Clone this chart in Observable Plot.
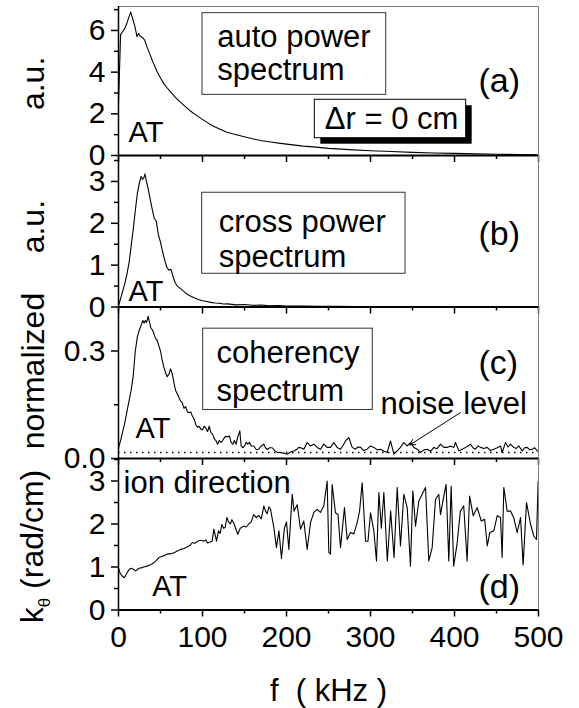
<!DOCTYPE html>
<html><head><meta charset="utf-8">
<script src="https://cdn.jsdelivr.net/npm/d3@7"></script>
<script src="https://cdn.jsdelivr.net/npm/@observablehq/plot@0.6"></script>
<style>
body{margin:0;background:#fff;}
#chart{position:relative;width:579px;height:708px;overflow:hidden;background:#fff;}
#chart svg{position:absolute;left:0;}
</style></head><body><div id="chart"></div>
<script>
const FONT = "'Liberation Sans', Arial, Helvetica, sans-serif";

// (a) auto power spectrum [f kHz, a.u.]
const autoPower = [[0,2.5],[2.5,5.8],[5,5.95],[7.5,6.1],[10,6.35],[12.5,6.65],[14.5,6.88],[17,6.55],[19.5,6.2],[22,5.7],[24,5.85],[26,5.72],[28,5.68],[31,5.55],[34,5.2],[37,4.9],[40,4.58],[43,4.3],[46,4.02],[50,3.72],[54,3.45],[58,3.24],[62,3.05],[68,2.78],[74,2.55],[80,2.33],[86,2.12],[92,1.95],[98,1.78],[105,1.6],[113,1.4],[121,1.26],[129,1.12],[137,1.03],[145,0.95],[157,0.83],[169,0.72],[181,0.65],[193,0.58],[205,0.52],[220,0.45],[235,0.4],[250,0.34],[275,0.28],[300,0.23],[325,0.19],[350,0.15],[375,0.12],[400,0.1],[425,0.08],[450,0.06],[475,0.05],[500,0.03]];

// (b) cross power spectrum
const crossPower = [[0,0.02],[2.5,0.2],[5,0.38],[7.5,0.56],[10,0.78],[12.5,1.05],[15,1.45],[17.5,1.85],[20,2.3],[22.5,2.72],[25,2.98],[27,3.12],[28.5,3.05],[30,3.08],[31.5,3.18],[33,3.02],[35,2.85],[37.5,2.6],[40,2.35],[42.5,2.12],[45,2.05],[47.5,1.72],[50,1.55],[52.5,1.32],[55,1.12],[57.5,0.95],[60,0.88],[62.5,0.9],[65,0.72],[67.5,0.58],[70,0.5],[75,0.42],[80,0.33],[85,0.27],[90,0.22],[95,0.18],[100,0.15],[105,0.13],[110,0.11],[115,0.095],[120,0.09],[125,0.07],[130,0.075],[140,0.05],[150,0.06],[160,0.04],[170,0.045],[180,0.03],[190,0.035],[200,0.02],[220,0.02],[240,0.015],[260,0.015],[280,0.01],[300,0.01],[350,0.01],[400,0.005],[450,0.005],[500,0.005]];

// (c) coherency spectrum
const coherency = [[0,0.03],[2.5,0.05],[5,0.075],[7.5,0.1],[10,0.13],[12.5,0.16],[15,0.19],[17.5,0.23],[20,0.3],[22.5,0.34],[25,0.36],[27.5,0.375],[29,0.385],[30.5,0.378],[32,0.385],[33.5,0.38],[35.3,0.397],[37,0.38],[38.5,0.365],[40,0.36],[42,0.35],[44,0.335],[46,0.33],[48,0.315],[50,0.3],[52,0.275],[54,0.255],[56,0.24],[58,0.228],[60,0.235],[62,0.25],[63.5,0.24],[65,0.225],[66.5,0.205],[68,0.19],[70,0.18],[72,0.17],[74,0.16],[76,0.155],[78,0.14],[80,0.145],[82,0.13],[84,0.128],[86,0.13],[88,0.118],[90,0.11],[92,0.095],[94,0.087],[96,0.09],[98,0.082],[100,0.08],[102,0.09],[104,0.085],[106,0.075],[108,0.09],[110,0.072],[112,0.068],[114,0.055],[116,0.05],[118,0.04],[120,0.05],[122,0.045],[124,0.05],[126,0.058],[128,0.062],[130,0.06],[132,0.063],[134,0.045],[136,0.04],[138,0.05],[140,0.04],[142,0.06],[144.4,0.077],[146,0.035],[148,0.03],[150,0.035],[152,0.045],[154,0.04],[156,0.045],[158,0.035],[161,0.035],[164,0.025],[167,0.026],[170,0.035],[173,0.04],[175,0.03],[177,0.025],[180,0.03],[183,0.03],[186,0.022],[189,0.017],[192.9,0.0167],[197,0.015],[200.8,0.012],[205,0.018],[208.7,0.021],[212,0.025],[214.7,0.031],[217,0.03],[220.6,0.026],[224.6,0.0445],[228.6,0.035],[232.5,0.04],[236.5,0.031],[240.5,0.026],[244.4,0.04],[248.4,0.031],[252.4,0.031],[256.3,0.0445],[260.3,0.031],[264.3,0.026],[267,0.035],[270.2,0.049],[274.2,0.0585],[278.2,0.031],[282.1,0.026],[285,0.032],[288.1,0.031],[292,0.022],[296,0.026],[300,0.035],[304,0.031],[308,0.024],[311.9,0.026],[316,0.02],[319.8,0.0167],[323.8,0.049],[327.8,0.012],[331.7,0.0213],[335.7,0.031],[339.7,0.0445],[343.7,0.035],[347.6,0.0445],[351.6,0.031],[355.6,0.026],[359.5,0.0167],[363.5,0.024],[367.5,0.026],[371.4,0.02],[375.4,0.031],[379,0.027],[383.3,0.04],[387.3,0.031],[391.3,0.031],[395.2,0.035],[399.2,0.031],[401.2,0.0445],[405.2,0.0213],[409.1,0.026],[413.1,0.031],[416,0.035],[419,0.04],[422,0.03],[425,0.026],[428,0.035],[431,0.031],[435,0.028],[438.9,0.031],[442.8,0.022],[446.8,0.026],[450.8,0.03],[454.8,0.035],[456.7,0.0167],[460.7,0.0445],[463.7,0.032],[466.7,0.04],[470.6,0.031],[473.6,0.028],[476.6,0.035],[480.6,0.0213],[483.5,0.03],[486.5,0.031],[489.5,0.024],[492.5,0.026],[495.5,0.03],[498.4,0.0213],[500,0.02]];
const noiseLevel = [0.0167];

// (d) k_theta (rad/cm)
const kTheta = [[0,0.98],[2,0.85],[4.4,0.79],[7,0.75],[10.3,0.87],[13,0.95],[15,0.97],[17.5,0.95],[20,0.91],[22,0.93],[24,0.97],[27,0.98],[30,1.0],[34,1.02],[38,1.05],[42,1.1],[45,1.15],[48,1.22],[52,1.25],[55,1.27],[58,1.3],[62,1.31],[66,1.33],[70,1.37],[74,1.41],[78,1.43],[82,1.47],[85,1.5],[88,1.57],[91,1.55],[94,1.6],[98,1.62],[101.6,1.6],[104,1.63],[106,1.56],[109,1.58],[111.5,1.6],[113.5,1.88],[116.7,1.6],[119,1.84],[121,1.78],[123,1.99],[125,1.9],[127,1.92],[129,2.15],[131,2.05],[133,2.0],[135,2.1],[137,2.03],[139.5,1.9],[142,1.76],[145,1.9],[149,1.95],[152,1.93],[155,2.0],[158,2.05],[161,2.22],[164,2.15],[167,2.2],[170,2.12],[173,2.42],[175,2.3],[177,2.24],[179,2.4],[181,2.34],[185,1.91],[188,1.45],[191,1.84],[194,1.2],[197.5,1.9],[200,2.05],[202.8,1.41],[206.8,2.69],[209,2.3],[212.7,2.45],[216.7,1.88],[220.6,2.07],[224.6,1.41],[228.6,2.03],[232.5,2.27],[236.5,2.34],[240.5,2.27],[244.4,2.42],[248.4,3.0],[250.4,1.34],[252.4,1.3],[254.3,2.92],[258.3,2.26],[261.3,2.22],[264.3,1.45],[269,2.38],[272.2,1.64],[276.2,1.8],[280.2,1.77],[284.1,2.03],[287,2.3],[290.1,2.96],[294.1,1.6],[297,1.6],[300,2.26],[304,1.84],[307.1,1.14],[310,2.73],[312.9,1.9],[315.9,2.73],[320,1.14],[324,2.3],[328,1.22],[331.8,2.85],[335.7,1.49],[339.7,2.69],[343.7,2.38],[347.6,1.02],[350.4,2.77],[353.6,1.95],[357.5,2.53],[361.5,2.69],[365.5,2.85],[369.4,1.14],[373.4,1.45],[377.4,2.57],[381.3,2.69],[383.3,2.22],[387.3,2.65],[390,2.92],[393.2,1.14],[396,2.88],[399,1.02],[403,1.53],[407,2.3],[411,2.42],[415,1.14],[418,2.65],[422.3,2.19],[427,2.38],[431.9,2.07],[435.9,2.11],[439,1.49],[442,1.8],[446.8,1.84],[450.8,2.19],[454.8,2.15],[456.7,1.22],[458.7,2.85],[462.7,2.3],[466.7,2.3],[470.6,2.14],[474.6,1.8],[478.6,2.15],[481.7,1.05],[485.7,2.5],[490.5,2.0],[494.4,1.72],[497.6,1.64],[499.6,3.0]];

const xMajor = [0, 100, 200, 300, 400, 500];
const xMinor = [50, 150, 250, 350, 450];

const toRows = (pairs) => pairs.map(([f, v]) => ({f, v}));
const intFmt = d3.format("d");

function panel(o) {
  const {top, frameH, mt = 12, mb = 12, yDomain, yMajor, yMinor, yFormat = intFmt, xLabels = false, marks, topRule = false} = o;
  const svg = Plot.plot({
    width: 579, height: frameH + mt + mb,
    marginLeft: 118, marginRight: 41, marginTop: mt, marginBottom: mb,
    x: {domain: [0, 500]},
    y: {domain: yDomain},
    style: {background: "transparent", overflow: "visible", fontFamily: FONT, color: "black"},
    marks: [
      ...marks,
      Plot.ruleX([500], {stroke: "#808080", strokeWidth: 1}),
      ...(topRule ? [Plot.ruleY([yDomain[1]], {stroke: "#808080", strokeWidth: 1})] : []),
      Plot.ruleX([0], {stroke: "black", strokeWidth: 1.5}),
      Plot.ruleY([yDomain[0]], {stroke: "black", strokeWidth: 2}),
      Plot.axisY({ticks: yMajor, tickSize: 7, tickPadding: 6, tickFormat: yFormat, fontSize: 30, strokeWidth: 1.5, label: null}),
      Plot.axisY({ticks: yMinor, tickSize: 4, tickFormat: () => "", strokeWidth: 1.5, label: null}),
      Plot.axisX({ticks: xMajor, tickSize: 7, tickPadding: 9, tickFormat: xLabels ? (d => String(d)) : () => "", fontSize: 30, strokeWidth: 1.5, label: null}),
      Plot.axisX({ticks: xMinor, tickSize: 4, tickFormat: () => "", strokeWidth: 1.5, label: null})
    ]
  });
  svg.style.top = (top - mt) + "px";
  document.getElementById("chart").append(svg);
  return svg;
}

const yLabel = (text, v) => Plot.text([text], {frameAnchor: "left", y: v, dx: -75, rotate: -90, textAnchor: "middle", lineAnchor: "bottom", fontSize: 32});
const note = (text, f, v, size = 31, extra = {}) => Plot.text([text], {x: f, y: v, textAnchor: "start", lineAnchor: "bottom", fontSize: size, ...extra});
const tag = (text, v) => note(text, 428.5, v, 34);

// (a)
panel({
  top: 6, frameH: 149, mt: 6, topRule: true,
  yDomain: [0, 7.15], yMajor: [0, 2, 4, 6], yMinor: [1, 3, 5, 7],
  marks: [
    Plot.line(toRows(autoPower), {x: "f", y: "v", stroke: "black", strokeWidth: 1.1}),
    Plot.rect([0], {x1: 100, x2: 318.7, y1: 2.91, y2: 6.83, fill: "white", stroke: "#333", strokeWidth: 1}),
    note("auto power\nspectrum", 117.5, 3.6, 31, {lineHeight: 1.07}),
    Plot.rect([0], {x1: 233.7, x2: 413.9, y1: 0.83, y2: 2.674, fill: "black", dx: 6, dy: 6}),
    Plot.rect([0], {x1: 233.7, x2: 413.9, y1: 0.83, y2: 2.674, fill: "white", stroke: "black", strokeWidth: 1}),
    note("Δr = 0 cm", 245.6, 1.28, 31),
    tag("(a)", 3.04),
    note("AT", 11.9, 0.64, 29),
    yLabel("a.u.", 3.46)
  ]
});

// (b)
panel({
  top: 155, frameH: 151.5,
  yDomain: [0, 3.62], yMajor: [0, 1, 2, 3], yMinor: [0.5, 1.5, 2.5, 3.5],
  marks: [
    Plot.line(toRows(crossPower), {x: "f", y: "v", stroke: "black", strokeWidth: 1.1}),
    Plot.rect([0], {x1: 99.6, x2: 341.7, y1: 0.794, y2: 2.73, fill: "white", stroke: "#333", strokeWidth: 1}),
    note("cross power\nspectrum", 119.4, 0.951, 31, {lineHeight: 1.13}),
    tag("(b)", 1.47),
    note("AT", 11.9, 0.155, 29),
    yLabel("a.u.", 1.92)
  ]
});

// (c)
panel({
  top: 306.5, frameH: 151,
  yDomain: [0, 0.4214], yMajor: [0, 0.3], yMinor: [0.15], yFormat: d3.format(".1f"),
  marks: [
    Plot.ruleY(noiseLevel, {stroke: "black", strokeWidth: 1.3, strokeDasharray: "1.5,4.5"}),
    Plot.line(toRows(coherency), {x: "f", y: "v", stroke: "black", strokeWidth: 1.1}),
    Plot.rect([0], {x1: 100.8, x2: 302.7, y1: 0.1354, y2: 0.3623, fill: "white", stroke: "#333", strokeWidth: 1}),
    note("coherency\nspectrum", 116.7, 0.1605, 31, {lineHeight: 1.235}),
    tag("(c)", 0.235),
    note("noise level", 311.9, 0.123, 31),
    Plot.arrow([0], {x1: 407, y1: 0.128, x2: 346.8, y2: 0.038, stroke: "black", strokeWidth: 1, headLength: 9}),
    note("AT", 20.2, 0.058, 29),
    yLabel("normalized", 0.244)
  ]
});

// (d)
const svgD = panel({
  top: 457.5, frameH: 151.5, mb: 99, xLabels: true,
  yDomain: [0, 3.523], yMajor: [0, 1, 2, 3], yMinor: [0.5, 1.5, 2.5, 3.5],
  marks: [
    Plot.line(toRows(kTheta), {x: "f", y: "v", stroke: "black", strokeWidth: 1.1}),
    note("ion direction", 6, 2.73, 31),
    tag("(d)", 0.286),
    note("AT", 40.1, 0.326, 29),
    Plot.text(["f  ( kHz )"], {frameAnchor: "bottom", dy: 91, lineAnchor: "bottom", fontSize: 31})
  ]
});

// y label of (d) with subscript theta
const yD = svgD.scale("y");
const lab = d3.select(svgD).append("text")
  .attr("transform", `translate(43,${yD.apply(1.465)}) rotate(-90)`)
  .attr("text-anchor", "middle")
  .attr("font-size", 32)
  .attr("font-family", FONT)
  .attr("fill", "black");
lab.append("tspan").text("k");
lab.append("tspan").attr("font-size", 17).attr("dy", 7).text("θ");
lab.append("tspan").attr("dy", -7).text(" (rad/cm)");
</script>
</body></html>
